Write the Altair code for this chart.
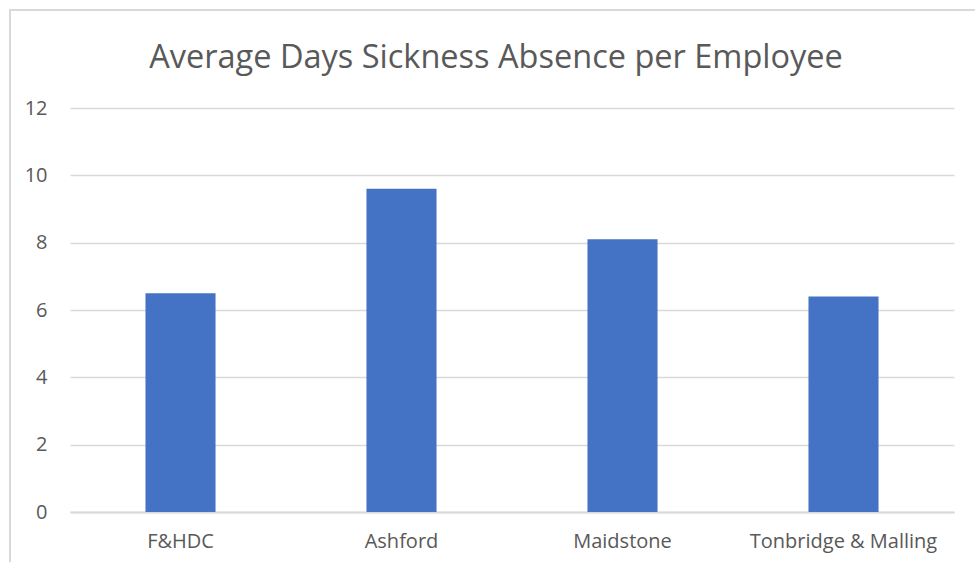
import altair as alt
import pandas as pd

categories = ["F&HDC", "Ashford", "Maidstone", "Tonbridge & Malling"]
values = [6.5, 9.6, 8.1, 6.4]

df = pd.DataFrame({"Council": categories, "Days": values})

FONT = "Open Sans"
GREY = "#595959"

frame = alt.Chart(df).mark_rect(fill=None, stroke="#d9d9d9", strokeWidth=2, clip=False).encode(
    x=alt.value(-60), x2=alt.value(1000), y=alt.value(-98), y2=alt.value(600)
)

bars = alt.Chart(df).mark_bar(color="#4472c4").encode(
    x=alt.X("Council:N", sort=categories, title=None,
            scale=alt.Scale(paddingInner=0.683, paddingOuter=0.3415),
            axis=alt.Axis(labelAngle=0, labelFont=FONT, labelFontSize=20, labelColor=GREY,
                          labelPadding=19, labelLimit=400, ticks=False,
                          domainColor="#d9d9d9", domainWidth=2)),
    y=alt.Y("Days:Q", title=None,
            scale=alt.Scale(domain=[0, 12]),
            axis=alt.Axis(values=[0, 2, 4, 6, 8, 10, 12], labelFont=FONT, labelFontSize=20,
                          labelColor=GREY, labelPadding=23, ticks=False, domain=False,
                          gridColor="#d9d9d9", gridWidth=1.5)),
)

chart = alt.layer(frame, bars).properties(
    width=884, height=404,
    title=alt.TitleParams("Average Days Sickness Absence per Employee", font=FONT, fontSize=32.5,
                          fontWeight="normal", color=GREY, offset=-65, dx=-16),
    padding={"left": 70, "top": 108, "right": 21, "bottom": 50},
    autosize=alt.AutoSizeParams(type="none"),
).configure_view(stroke=None)

chart.save("out.html", embed_options={"renderer": "svg", "actions": False})
